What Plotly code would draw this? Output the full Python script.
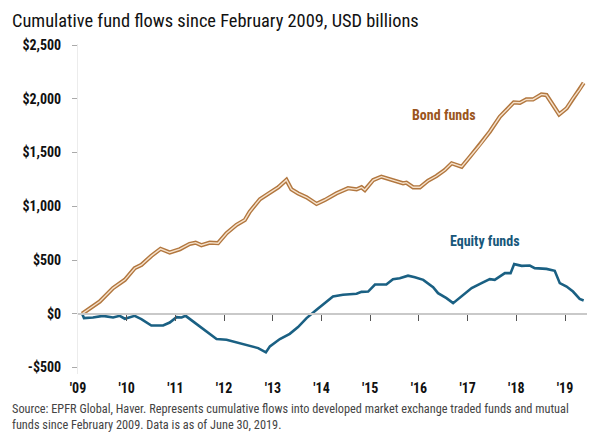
import plotly.graph_objects as go
import pandas as pd

# ---------------- data ----------------
bond_dates = ["2009-02-01","2009-03-30","2009-06-13","2009-09-21","2009-12-18","2010-03-02","2010-04-21",
              "2010-07-05","2010-09-12","2010-11-20","2011-02-04","2011-04-18","2011-06-02","2011-07-15",
              "2011-09-16","2011-11-17","2012-01-20","2012-04-03","2012-06-05","2012-07-12","2012-09-26",
              "2012-12-10","2013-02-11","2013-04-13","2013-05-20","2013-07-09","2013-09-11","2013-11-25",
              "2014-01-27","2014-04-23","2014-07-19","2014-09-21","2014-10-28","2014-11-22","2015-01-24",
              "2015-03-26","2015-05-27","2015-07-17","2015-09-05","2015-09-30","2015-11-19","2016-01-09",
              "2016-03-10","2016-05-12","2016-07-14","2016-09-03","2016-10-10","2016-11-17","2017-01-18",
              "2017-04-02","2017-06-16","2017-08-30","2017-10-19","2017-12-13","2018-01-28","2018-03-17",
              "2018-05-06","2018-07-08","2018-08-15","2018-10-04","2018-11-18","2019-01-13","2019-03-02",
              "2019-04-21","2019-05-21"]
bond_values = [0, 53, 114, 239, 316, 424, 455,
               539, 604, 570, 601, 650, 662, 638,
               662, 657, 750, 827, 873, 950, 1066,
               1127, 1177, 1245, 1158, 1121, 1084, 1022,
               1059, 1121, 1168, 1158, 1177, 1152, 1245,
               1276, 1251, 1229, 1214, 1220, 1177, 1177,
               1238, 1282, 1338, 1400, 1384, 1368, 1461,
               1570, 1694, 1833, 1895, 1967, 1963, 1994,
               1994, 2041, 2035, 1942, 1855, 1911, 2004,
               2087, 2149]

equity_dates = ["2009-02-01","2009-02-15","2009-04-23","2009-07-07","2009-09-21","2009-11-10","2009-12-18",
                "2010-01-25","2010-03-02","2010-04-21","2010-07-05","2010-10-01","2010-11-20","2011-01-10",
                "2011-02-17","2011-03-19","2011-05-13","2011-08-22","2011-11-06","2012-01-20","2012-04-03",
                "2012-06-05","2012-07-25","2012-09-13","2012-11-10","2012-12-10","2013-02-23","2013-05-08",
                "2013-07-09","2013-09-11","2013-11-25","2014-02-09","2014-03-28","2014-06-11","2014-09-21",
                "2014-10-28","2014-12-17","2015-02-06","2015-05-02","2015-06-21","2015-08-11","2015-10-12",
                "2015-12-02","2016-02-03","2016-04-17","2016-05-24","2016-07-26","2016-09-14","2016-11-29",
                "2017-01-31","2017-04-15","2017-06-16","2017-07-23","2017-10-07","2017-11-19","2017-12-16",
                "2018-02-10","2018-04-12","2018-05-19","2018-08-15","2018-10-16","2018-11-23","2019-01-13",
                "2019-03-02","2019-04-21","2019-05-21"]
equity_values = [0, -40, -34, -19, -34, -19, -46,
                 -31, -19, -49, -109, -109, -81, -31,
                 -34, -19, -71, -164, -235, -241, -266,
                 -288, -303, -319, -359, -303, -235, -186,
                 -124, -40, 37, 114, 161, 177, 186,
                 204, 207, 272, 272, 322, 331, 355,
                 341, 316, 248, 192, 146, 99, 177,
                 239, 285, 322, 316, 378, 378, 462,
                 446, 449, 425, 418, 400, 285, 254,
                 207, 139, 124]

year_ticks = ["2009-01-01","2010-01-01","2011-01-01","2012-01-01","2013-01-01","2014-01-01",
              "2015-01-01","2016-01-01","2017-01-01","2018-01-01","2019-01-01"]
year_labels = ["'09","'10","'11","'12","'13","'14","'15","'16","'17","'18","'19"]
y_ticks = [-500, 0, 500, 1000, 1500, 2000, 2500]
y_labels = ["-$500", "$0", "$500", "$1,000", "$1,500", "$2,000", "$2,500"]

title_text = "Cumulative fund flows since February 2009, USD billions"
source_text = ("Source: EPFR Global, Haver. Represents cumulative flows into developed market exchange traded funds and mutual"
               "<br>funds since February 2009. Data is as of June 30, 2019.")

# ---------------- figure ----------------
FONT = "Liberation Sans Narrow, Roboto Condensed, Roboto, sans-serif"
BOND_DARK = "#b2773f"
BOND_LIGHT = "#f6e2cc"
EQ = "#1a6083"

bd = pd.to_datetime(bond_dates)
ed = pd.to_datetime(equity_dates)
x_range = ["2009-01-01", "2019-06-15"]
y_range = [-560, 2510]

fig = go.Figure()
fig.add_trace(go.Scatter(x=bd, y=bond_values, mode="lines",
                         line=dict(color=BOND_DARK, width=4.2), hoverinfo="skip", showlegend=False))
fig.add_trace(go.Scatter(x=bd, y=bond_values, mode="lines",
                         line=dict(color=BOND_LIGHT, width=1.4), hoverinfo="skip", showlegend=False))
fig.add_trace(go.Scatter(x=ed, y=equity_values, mode="lines",
                         line=dict(color=EQ, width=2.6), hoverinfo="skip", showlegend=False))
# invisible trace to carry the zero-line axis
fig.add_trace(go.Scatter(x=ed, y=equity_values, xaxis="x2", mode="lines",
                         line=dict(width=0), opacity=0, hoverinfo="skip", showlegend=False))

fig.update_layout(
    width=591, height=434,
    margin=dict(l=78, r=4, t=44, b=60),
    paper_bgcolor="white", plot_bgcolor="white",
    font=dict(family=FONT, color="#111111"),
    title=dict(text=title_text, x=12/591, xanchor="left", xref="container",
               y=1 - 21/434, yanchor="middle", yref="container",
               font=dict(size=18.4, color="#111111", family=FONT)),
    xaxis=dict(type="date", range=x_range, tickvals=year_ticks, ticktext=year_labels,
               showgrid=False, zeroline=False, showline=False, ticks="",
               tickfont=dict(size=14, weight="bold", color="#111111"), ticklabelstandoff=4),
    xaxis2=dict(type="date", range=x_range, overlaying="x", anchor="free",
                position=(0 - y_range[0]) / (y_range[1] - y_range[0]), side="bottom",
                showline=True, linecolor="#c9c9c9", linewidth=2,
                ticks="outside", ticklen=6, tickwidth=1, tickcolor="#555555",
                tickvals=year_ticks[1:], showticklabels=False, showgrid=False, zeroline=False),
    yaxis=dict(range=y_range, tickvals=y_ticks, ticktext=y_labels,
               showgrid=False, zeroline=False, showline=True, linecolor="#ececec", linewidth=1,
               ticks="outside", ticklen=5, tickcolor="#aaaaaa",
               tickfont=dict(size=14, weight="bold", color="#111111"), ticklabelstandoff=8),
    showlegend=False,
)

fig.add_annotation(text="Bond funds", x="2016-07-10", y=1849, xref="x", yref="y",
                   showarrow=False, font=dict(size=14, color="#9a5520", family=FONT, weight="bold"))
fig.add_annotation(text="Equity funds", x="2017-05-10", y=678, xref="x", yref="y",
                   showarrow=False, font=dict(size=14, color="#17577a", family=FONT, weight="bold"))
fig.add_annotation(text=source_text, xref="paper", yref="paper",
                   x=(10 - 78) / 509, y=-(400 - 374) / 330, xanchor="left", yanchor="top",
                   align="left", showarrow=False,
                   font=dict(size=12.3, color="#444444", family=FONT))

fig.write_html("out.html")
